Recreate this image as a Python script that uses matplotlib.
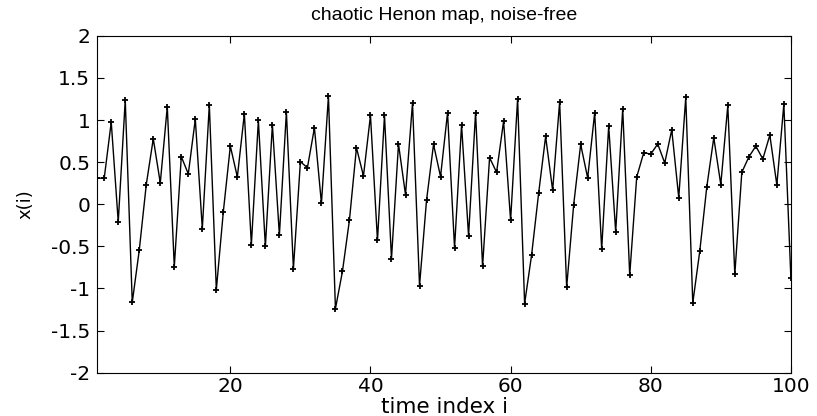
import matplotlib
matplotlib.use("Agg")
import matplotlib.pyplot as plt

plt.rcParams['font.family'] = ['DejaVu Sans']

time_index = list(range(1, 101))
x_values = [
    0.31, 0.31, 0.975, -0.21, 1.24, -1.165, -0.545, 0.233, 0.778, 0.253,
    1.157, -0.742, 0.565, 0.36, 1.01, -0.29, 1.18, -1.015, -0.087, 0.69,
    0.324, 1.074, -0.48, 0.995, -0.50, 0.944, -0.367, 1.097, -0.766, 0.505,
    0.434, 0.908, 0.01, 1.283, -1.24, -0.797, -0.186, 0.671, 0.336, 1.054,
    -0.43, 1.054, -0.647, 0.715, 0.114, 1.204, -0.967, 0.047, 0.711, 0.328,
    1.086, -0.517, 0.94, -0.375, 1.086, -0.738, 0.553, 0.379, 0.987, -0.19,
    1.251, -1.18, -0.60, 0.13, 0.805, 0.166, 1.216, -0.987, -0.008, 0.711,
    0.312, 1.086, -0.533, 0.928, -0.328, 1.133, -0.841, 0.324, 0.612, 0.596,
    0.715, 0.49, 0.884, 0.079, 1.271, -1.172, -0.557, 0.205, 0.79, 0.233,
    1.173, -0.833, 0.379, 0.561, 0.69, 0.537, 0.821, 0.229, 1.188, -0.87,
]
y_ticks = [-2, -1.5, -1, -0.5, 0, 0.5, 1, 1.5, 2]
y_tick_labels = ['-2', '-1.5', '-1', '-0.5', '0', '0.5', '1', '1.5', '2']
x_ticks = [20, 40, 60, 80, 100]
x_tick_labels = ['20', '40', '60', '80', '100']

fig = plt.figure(figsize=(8.17, 4.16), dpi=100)
ax = fig.add_axes([0.119, 0.104, 0.849, 0.810])
ax.plot(time_index, x_values, color='black', linewidth=1.0,
        marker='+', markersize=5, markeredgewidth=1.3)
ax.set_xlim(1, 100)
ax.set_ylim(-2, 2)
ax.set_yticks(y_ticks)
ax.set_yticklabels(y_tick_labels)
ax.set_xticks(x_ticks)
ax.set_xticklabels(x_tick_labels)
ax.tick_params(direction='in', top=True, right=True, labelsize=14.5,
               length=5, width=0.8)
ax.tick_params(axis='y', pad=5)
ax.tick_params(axis='x', pad=3)
for s in ax.spines.values():
    s.set_linewidth(0.8)
ax.set_title('chaotic Henon map, noise-free', fontsize=14, pad=11,
             family=['Liberation Sans', 'DejaVu Sans'])
ax.set_xlabel('time index i', fontsize=15.5)
ax.set_ylabel('x(i)', fontsize=13)
ax.xaxis.set_label_coords(0.5, -(413 - 372.7) / 337.0, transform=ax.transAxes)
ax.xaxis.label.set_va('baseline')
ax.yaxis.set_label_coords(-(97.3 - 26) / 693.4, 0.5, transform=ax.transAxes)
ax.yaxis.label.set_va('center')
fig.savefig('out.png', dpi=100)
